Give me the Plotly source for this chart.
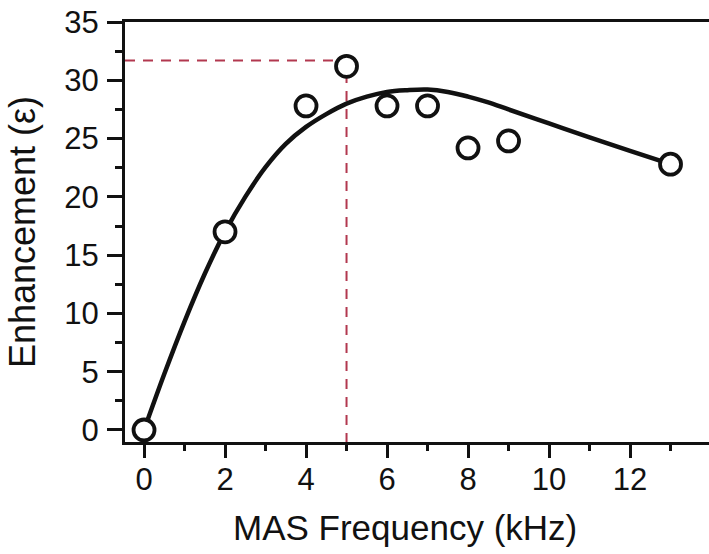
import plotly.graph_objects as go

# Measured enhancement vs. MAS spinning frequency
mas_khz = [0, 2, 4, 5, 6, 7, 8, 9, 13]
enhancement = [0.0, 17.0, 27.8, 31.2, 27.8, 27.8, 24.2, 24.8, 22.8]

# Smooth fit curve, sampled along its path
fit_khz = [0, 0.5, 1, 1.5, 2, 2.5, 3, 3.5, 4, 4.5, 5, 5.5, 6, 6.5, 7, 7.5, 8, 8.5, 9,
           10, 11, 12, 13]
fit_eps = [0.0, 4.8, 9.3, 13.4, 17.0, 20.0, 22.55, 24.55, 26.0, 27.1, 28.0, 28.6, 29.0,
           29.15, 29.2, 29.0, 28.6, 28.1, 27.5, 26.3, 25.1, 23.95, 22.8]

# Guide marking the optimum spinning rate
opt_khz = 5.0
opt_eps = 31.7

x_range = [-0.47, 13.95]
y_range = [-1.03, 35]

ink = "#111111"
guide = "#b2384f"
font_family = "Liberation Sans, Arial, sans-serif"

fig = go.Figure()

fig.add_trace(go.Scatter(
    x=[x_range[0], opt_khz, opt_khz],
    y=[opt_eps, opt_eps, y_range[0]],
    mode="lines",
    line=dict(color=guide, width=2, dash="10px,8px"),
    hoverinfo="skip",
    showlegend=False,
))

fig.add_trace(go.Scatter(
    x=fit_khz,
    y=fit_eps,
    mode="lines",
    line=dict(color=ink, width=4.5, shape="spline", smoothing=1.0),
    showlegend=False,
))

fig.add_trace(go.Scatter(
    x=mas_khz,
    y=enhancement,
    mode="markers",
    marker=dict(symbol="circle", size=21, color="white",
                line=dict(color=ink, width=3.8)),
    cliponaxis=False,
    showlegend=False,
))

fig.update_layout(
    width=709,
    height=554,
    margin=dict(l=125, r=0, t=22, b=112),
    paper_bgcolor="white",
    plot_bgcolor="white",
    font=dict(family=font_family, color=ink, size=31),
    annotations=[dict(
        text="MAS Frequency (kHz)",
        xref="paper", yref="paper",
        x=0.479, y=-0.203,
        xanchor="center", yanchor="middle",
        showarrow=False,
        font=dict(size=35, family=font_family, color=ink),
    )],
)

fig.update_xaxes(
    range=x_range,
    tickmode="array",
    tickvals=[0, 2, 4, 6, 8, 10, 12],
    ticktext=["0", "2", "4", "6", "8", "10", "12"],
    ticks="outside",
    ticklen=13,
    tickwidth=2.5,
    tickcolor=ink,
    ticklabelstandoff=-5,
    tickfont=dict(size=31, family=font_family, color=ink),
    minor=dict(tickmode="array", tickvals=[1, 3, 5, 7, 9, 11, 13],
               ticks="outside", ticklen=6, tickwidth=2.5, tickcolor=ink),
    showline=True,
    linecolor=ink,
    linewidth=3,
    mirror=True,
    showgrid=False,
    zeroline=False,
)

fig.update_yaxes(
    range=y_range,
    tickmode="array",
    tickvals=[0, 5, 10, 15, 20, 25, 30, 35],
    ticks="outside",
    ticklen=15,
    tickwidth=2.5,
    tickcolor=ink,
    ticklabelstandoff=2,
    tickfont=dict(size=31, family=font_family, color=ink),
    minor=dict(tickmode="array", tickvals=[2.5, 7.5, 12.5, 17.5, 22.5, 27.5, 32.5],
               ticks="outside", ticklen=7, tickwidth=2.5, tickcolor=ink),
    showline=True,
    linecolor=ink,
    linewidth=3,
    showgrid=False,
    zeroline=False,
    title=dict(text="Enhancement (ε)", font=dict(size=36, family=font_family, color=ink),
               standoff=18),
)

fig.write_html("out.html")
